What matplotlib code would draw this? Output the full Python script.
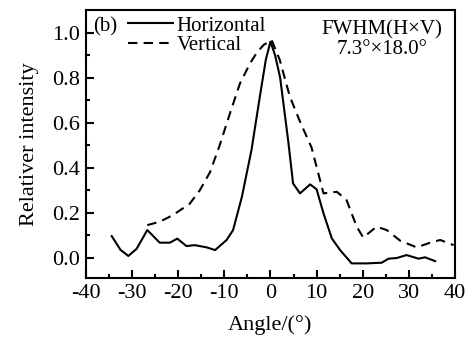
import numpy as np
import matplotlib.pyplot as plt

plt.rcParams['font.family'] = ['Liberation Serif', 'DejaVu Serif']
plt.rcParams['font.size'] = 16
plt.rcParams['axes.unicode_minus'] = False

# Horizontal profile (solid)
h_angle = [-34.4, -32.5, -30.8, -29.0, -26.7, -24.0, -21.8, -20.2, -18.2, -16.4,
           -13.8, -12.0, -9.5, -8.1, -6.2, -4.1, -2.3, -1.0, 0.0, 1.0, 2.1, 3.9,
           4.9, 6.4, 8.6, 10.0, 11.5, 13.3, 15.1, 17.6, 20.9, 24.1, 25.6, 27.4,
           29.5, 32.1, 33.5, 35.7]
h_val = [0.096, 0.035, 0.008, 0.04, 0.123, 0.067, 0.067, 0.085, 0.052, 0.056,
         0.046, 0.034, 0.079, 0.123, 0.27, 0.48, 0.716, 0.88, 0.96, 0.9, 0.80, 0.51,
         0.33, 0.286, 0.326, 0.304, 0.197, 0.086, 0.034, -0.025, -0.025, -0.022, -0.004, -0.001,
         0.012, -0.004, 0.002, -0.015]

# Vertical profile (dashed)
v_angle = [-26.7, -24.0, -21.1, -17.5, -15.3, -13.1, -11.0, -8.8, -6.6, -4.4,
           -3.0, -1.5, 0.25, 2.0, 4.2, 6.5, 8.9, 11.5, 14.4, 16.5, 18.7, 20.1,
           23.0, 25.2, 28.1, 31.7, 34.6, 36.8, 39.7]
v_val = [0.145, 0.16, 0.19, 0.24, 0.30, 0.38, 0.50, 0.64, 0.775, 0.864,
         0.91, 0.945, 0.967, 0.88, 0.716, 0.60, 0.49, 0.286, 0.293, 0.256, 0.138, 0.09,
         0.138, 0.123, 0.076, 0.046, 0.067, 0.079, 0.056]

fig = plt.figure(figsize=(4.72, 3.37), dpi=100)
ax = fig.add_axes([0.182, 0.175, 0.782, 0.795])

ax.plot(h_angle, h_val, color='black', lw=1.5, label='Horizontal')
ax.plot(v_angle, v_val, color='black', lw=1.5, ls=(0, (4.5, 3)), label='Vertical')

ax.set_xlim(-40, 40)
ax.set_ylim(-0.09, 1.1)
ax.set_xticks(np.arange(-40, 41, 10))
ax.set_xticks(np.arange(-35, 40, 10), minor=True)
ax.set_yticks(np.arange(0, 1.01, 0.2))
ax.set_yticks(np.arange(0.1, 1.1, 0.2), minor=True)
ax.yaxis.set_major_formatter(plt.FormatStrFormatter('%.1f'))
ax.tick_params(which='both', direction='in', width=1.5)
ax.tick_params(which='major', length=6, pad=4)
ax.tick_params(which='minor', length=3)
for s in ax.spines.values():
    s.set_linewidth(1.5)

ax.set_xlabel('Angle/(°)', labelpad=9)
ax.set_ylabel('Relativer intensity', labelpad=10)

ax.text(-38.4, 1.025, '(b)', va='center', ha='left', fontsize=15)
ax.legend(loc='upper left', bbox_to_anchor=(0.113, 0.978), frameon=False,
          handlelength=2.2, handletextpad=0.15, labelspacing=0.0,
          borderaxespad=0, borderpad=0, fontsize=15)
ax.text(24.2, 0.968, 'FWHM(H×V)\n7.3°×18.0°', ha='center', va='center',
        linespacing=1.0, fontsize=15)

fig.savefig('out.png', dpi=100)
